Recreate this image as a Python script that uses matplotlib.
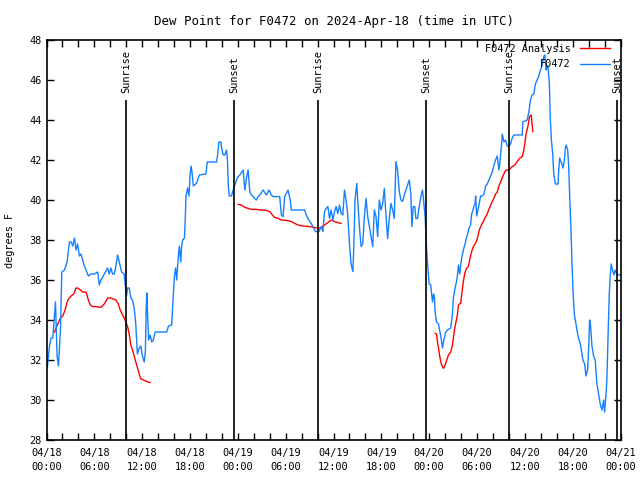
import numpy as np
import matplotlib
matplotlib.use("Agg")
import matplotlib.pyplot as plt

# hours since 2024-04-18 00:00 UTC
obs_t = [0.1, 0.375, 0.58, 0.79, 1.0, 1.125, 1.33, 1.5, 1.75, 1.92, 2.25, 2.58, 2.875, 3.08,
         3.29, 3.5, 3.7, 3.9, 4.125, 4.33, 4.67, 4.96, 5.25, 5.58, 6.0, 6.42, 6.625, 6.83,
         7.25, 7.67, 7.875, 8.08, 8.29, 8.5, 8.7, 8.92, 9.125, 9.42, 9.75, 9.875, 10.04,
         10.17, 10.375, 10.58, 10.79, 11.0, 11.2, 11.4, 11.625, 11.83, 12.04, 12.25, 12.4,
         12.5, 12.58, 12.67, 12.8, 13.0, 13.2, 13.4, 13.625, 14.5, 15.08, 15.3, 15.7, 15.8,
         15.9, 16.04, 16.2, 16.33, 16.54, 16.67, 16.83, 16.96, 17.08, 17.3, 17.375, 17.5,
         17.7, 17.875, 18.0, 18.125, 18.25, 18.42, 18.83, 19.04, 19.17, 20.0, 20.17, 21.33,
         21.46, 21.625, 21.875, 21.96, 22.17, 22.375, 22.58, 22.71, 22.8, 22.92, 23.2, 23.42,
         23.83, 24.05, 24.25, 24.67, 24.875, 25.08, 25.29, 25.5, 25.71, 25.92, 26.33, 26.54,
         26.75, 27.17, 27.58, 27.92, 28.2, 28.42, 29.25, 29.46, 29.67, 29.875, 30.29, 30.58,
         30.7, 32.375, 32.58, 32.9, 33.2, 33.42, 33.75, 34.17, 34.46, 34.67, 34.875, 35.08,
         35.29, 35.5, 35.7, 35.92, 36.125, 36.33, 36.54, 36.75, 36.96, 37.17, 37.375, 37.58,
         37.79, 38.0, 38.2, 38.42, 38.54, 38.7, 38.92, 39.04, 39.25, 39.46, 39.67, 39.875,
         40.08, 40.29, 40.5, 40.7, 40.92, 41.125, 41.33, 41.54, 41.75, 41.96, 42.17, 42.375,
         42.58, 42.79, 43.0, 43.2, 43.42, 43.625, 43.83, 44.04, 44.25, 44.46, 44.67, 44.875,
         45.08, 45.5, 45.7, 45.83, 46.0, 46.2, 46.33, 46.54, 46.75, 46.96, 47.17, 47.375,
         47.5, 47.67, 47.875, 48.0, 48.2, 48.33, 48.42, 48.54, 48.65, 48.75, 48.92, 49.17,
         49.25, 49.46, 49.58, 49.67, 49.79, 50.08, 50.3, 50.7, 50.92, 51.04, 51.25, 51.42,
         51.54, 51.67, 51.83, 51.96, 52.08, 52.29, 52.5, 52.67, 52.79, 53.0, 53.2, 53.33,
         53.5, 53.625, 53.75, 53.83, 53.96, 54.17, 54.46, 54.67, 54.875, 55.08, 55.29, 55.5,
         55.7, 55.92, 56.125, 56.33, 56.54, 56.75, 56.875, 57.08, 57.17, 57.375, 57.58,
         57.79, 58.0, 58.2, 58.42, 58.625, 59.67, 59.75, 60.29, 60.5, 60.71, 60.92, 61.125,
         61.33, 61.54, 61.75, 61.96, 62.17, 62.375, 62.5, 62.67, 62.79, 62.92, 63.08, 63.2,
         63.33, 63.5, 63.625, 63.83, 64.17, 64.25, 64.375, 64.54, 64.67, 64.79, 64.96,
         65.08, 65.2, 65.375, 65.5, 65.625, 65.79, 65.92, 66.04, 66.2, 66.42, 66.67, 66.96,
         67.17, 67.29, 67.5, 67.67, 67.875, 68.0, 68.125, 68.25, 68.42, 68.625, 68.83,
         69.04, 69.25, 69.46, 69.67, 69.79, 69.875, 70.0, 70.17, 70.29, 70.42, 70.58, 70.71,
         70.83, 71.0, 71.17, 71.33, 71.54, 71.75, 71.95]
obs_v = [31.6, 32.7, 33.1, 33.1, 34.2, 34.9, 32.2, 31.7, 33.5, 36.4, 36.5, 36.9, 37.9, 37.9,
         37.7, 38.1, 37.5, 37.8, 37.2, 37.3, 36.8, 36.5, 36.2, 36.3, 36.3, 36.4, 35.75, 36.0,
         36.3, 36.6, 36.3, 36.6, 36.3, 36.3, 36.7, 37.25, 36.9, 36.4, 36.3, 35.75, 35.2,
         35.6, 35.6, 35.1, 35.0, 34.6, 33.8, 32.3, 32.6, 32.7, 32.2, 31.9, 32.4,
         34.5, 35.35, 34.35, 33.0, 33.25, 32.9, 33.0, 33.4, 33.4, 33.4, 33.7, 33.75, 34.5,
         35.25, 36.2, 36.6, 36.0, 37.2, 37.7, 36.9, 37.7, 38.0, 38.1, 38.75, 40.2,
         40.6, 40.2, 41.2, 41.7, 41.4, 40.7, 40.85, 41.1, 41.25, 41.3, 41.9, 41.9,
         42.25, 42.9, 42.9, 42.6, 42.25, 42.25, 42.5, 41.9, 40.75, 40.2, 40.2, 40.5,
         41.0, 41.17, 41.25, 41.5, 40.5, 41.08, 41.5, 40.42, 40.25, 40.17, 40.0, 40.17,
         40.25, 40.5, 40.25, 40.5, 40.25, 40.17, 40.17, 39.25, 39.17, 40.17, 40.5, 40.0,
         39.5, 39.5, 39.25, 39.0, 38.83, 38.67, 38.42, 38.42, 38.67, 38.42, 39.42, 39.58,
         39.67, 39.08, 39.5, 39.0, 39.42, 39.67, 39.33, 39.75, 39.33, 39.25, 40.5, 40.0,
         39.25, 37.83, 36.83, 36.42, 37.5, 40.0, 40.83, 40.0, 38.67, 37.67, 37.83, 39.17,
         40.08, 39.17, 38.67, 38.17, 37.67, 39.5, 39.17, 38.17, 40.0, 39.5, 39.83, 40.58,
         39.25, 38.08, 39.08, 39.83, 39.5, 39.08, 41.92, 41.5, 40.42, 40.0, 39.92, 40.25,
         40.5, 41.0, 40.33, 38.67, 39.67, 39.67, 39.08, 39.08, 39.67, 40.17, 40.5, 39.67,
         39.1, 37.6, 36.4, 35.8, 35.75, 35.2, 34.9, 35.3, 35.2, 34.4, 33.9, 33.8,
         33.6, 33.2, 32.85, 32.6, 32.9, 33.4, 33.5, 33.6, 34.3, 35.1, 35.6, 35.9,
         36.2, 36.75, 36.3, 36.75, 37.1, 37.5, 37.8, 38.1, 38.25, 38.6, 38.75, 39.3,
         39.5, 39.7, 39.8, 40.2, 39.2, 39.6, 40.2, 40.2, 40.3, 40.7, 40.8, 41.0,
         41.2, 41.4, 41.75, 42.0, 42.2, 41.5, 41.9, 42.8, 43.3, 42.9, 43.0,
         42.7, 42.7, 42.8, 43.1, 43.25, 43.25, 43.9, 44.0, 44.4, 45.0, 45.25, 45.3,
         45.8, 46.0, 46.2, 46.5, 46.75, 47.17, 47.25, 46.5, 46.7, 46.6, 45.8, 44.0,
         43.0, 42.3, 41.3, 40.8, 40.8, 41.5, 42.1, 41.9, 41.8, 41.6, 42.0,
         42.6, 42.75, 42.5, 41.7, 40.2, 38.5, 36.8, 35.5, 34.3, 33.8, 33.2, 32.8,
         32.3, 32.0, 31.8, 31.2, 31.5, 32.5, 34.0, 33.7, 32.7, 32.2, 32.0,
         30.8, 30.3, 29.8, 29.5, 29.75, 30.0, 29.4, 30.2, 31.0, 32.8, 35.2, 36.2,
         36.8, 36.5, 36.25, 36.5, 36.3, 36.25, 36.25]

# analysis, three separate runs
ana1_t = [1.0, 1.42, 1.75, 2.04, 2.33, 2.67, 3.08, 3.42, 3.71, 3.92, 4.25, 4.54, 4.96, 5.25,
          5.5, 5.79, 6.21, 6.83, 7.25, 7.67, 8.08, 8.71, 9.0, 9.25, 9.54, 9.75, 9.96, 10.17,
          10.375, 10.58, 10.79, 11.0, 11.2, 11.42, 11.625, 11.83, 12.17, 12.58, 13.0]
ana1_v = [33.4, 33.8, 34.1, 34.2, 34.5, 35.0, 35.2, 35.3, 35.6, 35.6, 35.5, 35.4, 35.4, 35.0,
          34.75, 34.67, 34.67, 34.63, 34.8, 35.1, 35.1, 35.0, 34.8, 34.5, 34.25, 34.1, 33.9, 33.67,
          33.3, 32.75, 32.5, 32.2, 31.9, 31.6, 31.3, 31.05, 31.0, 30.92, 30.87]
ana2_t = [24.04, 24.46, 24.875, 25.29, 25.71, 26.33, 26.96, 27.375, 27.79, 28.0, 28.33, 28.625,
          29.04, 29.46, 30.29, 30.71, 31.125, 31.54, 32.17, 33.0, 33.625, 34.04, 34.46, 34.875,
          35.29, 35.71, 36.125, 36.54, 36.96]
ana2_v = [39.78, 39.75, 39.63, 39.58, 39.53, 39.53, 39.5, 39.5, 39.45, 39.42, 39.25, 39.13,
          39.08, 39.0, 38.97, 38.92, 38.83, 38.75, 38.7, 38.67, 38.63, 38.58, 38.63, 38.75,
          38.87, 39.0, 38.92, 38.87, 38.83]
ana3_t = [48.75, 48.92, 49.04, 49.17, 49.33, 49.5, 49.67, 49.79, 50.0, 50.21, 50.42, 50.71,
          50.92, 51.04, 51.17, 51.33, 51.54, 51.67, 51.96, 52.08, 52.25, 52.46, 52.67, 52.92,
          53.08, 53.33, 53.54, 53.75, 54.0, 54.25, 54.46, 54.75, 55.0, 55.29, 55.5, 55.83,
          56.125, 56.33, 56.54, 56.75, 56.96, 57.25, 57.5, 57.67, 57.92, 58.2, 58.42, 58.75,
          59.04, 59.33, 59.67, 59.875, 60.0, 60.17, 60.42, 60.58, 60.8, 60.9, 61.0]
ana3_v = [33.33, 33.3, 32.9, 32.6, 32.17, 31.83, 31.67, 31.58, 31.75, 32.0, 32.25, 32.4,
          32.75, 33.1, 33.5, 33.83, 34.25, 34.75, 34.85, 35.25, 35.83, 36.33, 36.58, 36.67,
          37.0, 37.42, 37.67, 37.8, 38.0, 38.45, 38.67, 38.9, 39.1, 39.3, 39.55, 39.85,
          40.1, 40.3, 40.4, 40.7, 40.9, 41.2, 41.42, 41.5, 41.5, 41.58, 41.67, 41.75,
          41.92, 42.08, 42.17, 42.5, 42.83, 43.33, 43.75, 44.17, 44.25, 43.83, 43.42]

sun_t = [10.0, 23.56, 34.05, 47.63, 58.05, 71.6]
sun_lab = ["Sunrise", "Sunset", "Sunrise", "Sunset", "Sunrise", "Sunset"]

xtick_h = list(range(0, 73, 6))
xtick_lab = ["04/18\n00:00", "04/18\n06:00", "04/18\n12:00", "04/18\n18:00",
             "04/19\n00:00", "04/19\n06:00", "04/19\n12:00", "04/19\n18:00",
             "04/20\n00:00", "04/20\n06:00", "04/20\n12:00", "04/20\n18:00",
             "04/21\n00:00"]

plt.rcParams['font.family'] = ['DejaVu Sans Mono']
plt.rcParams['font.size'] = 7.4

fig = plt.figure(figsize=(6.4, 4.8), dpi=100)
ax = fig.add_axes([46.5/640, 40/480, 574/640, 400/480])

ax.plot(ana1_t, ana1_v, color="#ff0000", lw=1, label="F0472 Analysis")
ax.plot(ana2_t, ana2_v, color="#ff0000", lw=1)
ax.plot(ana3_t, ana3_v, color="#ff0000", lw=1)
ax.plot(obs_t, obs_v, color="#1580ff", lw=1, label="F0472")

for t, lab in zip(sun_t, sun_lab):
    ax.vlines(t, 28, 45, color="black", lw=1.2)
    ax.text(t, 45.35, lab, rotation=90, ha="center", va="bottom")

ax.set_xlim(0, 72)
ax.set_ylim(28, 48)
ax.set_xticks(xtick_h)
ax.set_xticklabels(xtick_lab, linespacing=1.45)
ax.set_xticks(np.arange(0, 73, 2), minor=True)
ax.set_yticks(np.arange(28, 49, 2))
ax.tick_params(which="both", direction="in", top=True, right=True, length=5, width=1)
ax.tick_params(axis="x", pad=6)
for s in ax.spines.values():
    s.set_linewidth(1.2)

ax.set_title("Dew Point for F0472 on 2024-Apr-18 (time in UTC)", pad=11)
ax.set_ylabel("degrees F", labelpad=10)

ax.legend(loc="upper right", bbox_to_anchor=(0.994, 1.008), frameon=False,
          markerfirst=False, alignment="right", handlelength=2.9, handletextpad=0.9,
          labelspacing=0.5, borderpad=0.2)

fig.savefig("out.png", dpi=100)
